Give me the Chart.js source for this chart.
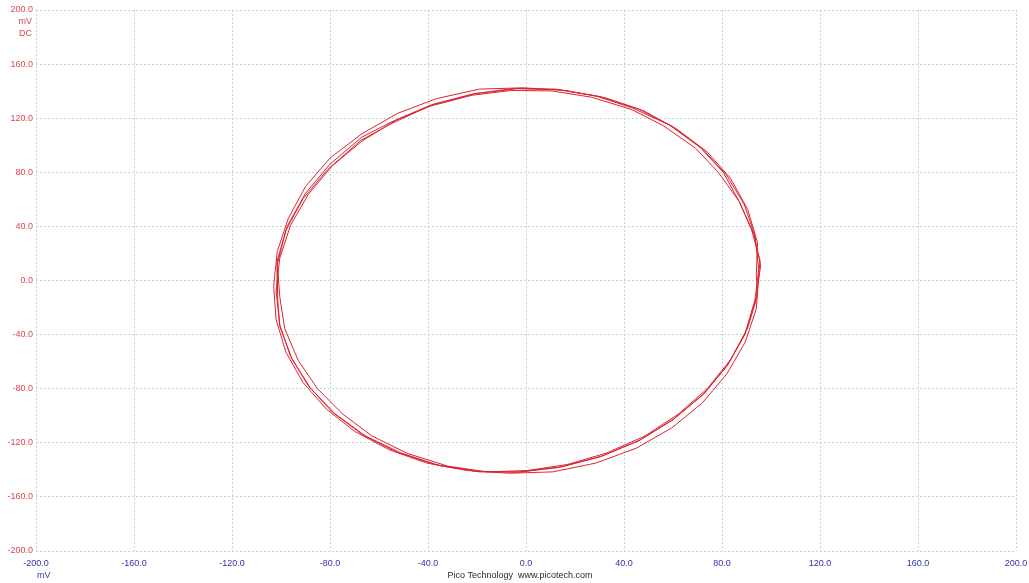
<!DOCTYPE html>
<html>
<head>
<meta charset="utf-8">
<script src="https://cdn.jsdelivr.net/npm/chart.js@4.4.1/dist/chart.umd.min.js"></script>
<style>
html,body{margin:0;padding:0;background:#fff;}
#wrap{width:1029px;height:583px;position:relative;}
</style>
</head>
<body>
<div id="wrap"><canvas id="c" width="1029" height="583"></canvas></div>
<script>
// Tick labels (mV)
const xTicks = [-200, -160, -120, -80, -40, 0, 40, 80, 120, 160, 200];
const yTicks = [-200, -160, -120, -80, -40, 0, 40, 80, 120, 160, 200];

// Trace X (channel A, mV) and Y (channel B, mV)
const traceX = [
  95.0, 93.5, 89.1, 81.8, 72.0, 59.8, 45.8, 30.2, 13.6, -3.5, -20.6, -37.2, -52.8, -66.8, -79.0, -88.8, -96.1, -100.5,
  -102.0, -100.5, -96.1, -88.8, -79.0, -66.8, -52.8, -37.2, -20.6, -3.5, 13.6, 30.2, 45.8, 59.8, 72.0, 81.8, 89.1, 93.5,
  95.8, 93.0, 87.0, 78.5, 69.2, 56.0, 43.0, 26.8, 10.5, -6.0, -22.0, -40.0, -55.0, -67.5, -81.0, -91.0, -98.0, -101.5,
  -100.5, -98.5, -93.0, -85.2, -75.0, -62.8, -48.5, -32.0, -16.0, 0.5, 17.0, 33.0, 48.5, 62.0, 74.0, 83.5, 90.5, 94.5,
  94.0, 94.5, 90.5, 83.5, 74.0, 61.5, 48.0, 32.5, 16.0, -1.0, -19.0, -36.5, -52.5, -67.0, -80.0, -90.0, -97.0, -101.5,
  -103.0, -102.0, -98.0, -91.0, -81.5, -70.0, -56.0, -40.5, -24.0, -7.0, 11.0, 28.5, 45.0, 59.5, 72.0, 82.0, 89.5, 94.0,
  95.5, 92.0, 87.0, 80.5, 71.0, 58.5, 43.5, 28.5, 12.0, -5.0, -21.5, -38.5, -54.0, -67.0, -80.0, -90.0, -97.5, -101.5,
  -101.5, -100.5, -95.5, -88.0, -78.0, -65.5, -51.0, -35.0, -19.0, -2.0, 15.0, 31.5, 47.0, 60.5, 73.0, 82.5, 89.5, 93.5,
  95.0
];
const traceY = [
  8.2, 32.7, 56.2, 78.0, 97.4, 113.9, 126.9, 136.0, 141.0, 141.8, 138.2, 130.4, 118.7, 103.3, 84.9, 63.8, 40.8, 16.6,
  -8.2, -32.7, -56.2, -78.0, -97.4, -113.9, -126.9, -136.0, -141.0, -141.8, -138.2, -130.4, -118.7, -103.3, -84.9, -63.8, -40.8, -16.6,
  11.0, 34.2, 58.5, 80.0, 97.8, 114.5, 126.5, 135.5, 140.2, 140.5, 137.0, 128.5, 116.0, 103.5, 82.0, 60.5, 37.0, 12.0,
  -12.0, -35.5, -59.0, -79.8, -98.5, -115.0, -127.8, -137.2, -141.5, -140.5, -136.0, -127.5, -115.0, -99.0, -80.0, -58.5, -35.0, -11.0,
  4.0, 28.0, 52.5, 75.5, 95.0, 112.0, 125.5, 135.0, 140.5, 142.5, 141.5, 134.5, 123.5, 108.5, 90.5, 69.5, 46.0, 21.5,
  -4.0, -29.0, -53.0, -75.5, -95.0, -111.5, -125.0, -135.0, -140.5, -142.5, -141.5, -135.0, -124.0, -109.0, -90.5, -69.0, -45.5, -21.0,
  15.0, 38.0, 58.5, 80.0, 98.5, 115.0, 127.5, 136.5, 141.5, 142.0, 138.0, 130.0, 118.0, 106.0, 86.0, 64.5, 40.0, 15.0,
  -10.0, -34.0, -58.0, -79.5, -98.5, -115.0, -127.5, -137.0, -141.5, -141.5, -137.5, -129.5, -117.5, -102.0, -83.0, -62.0, -39.0, -14.0,
  8.0
];

const points = traceX.map((x, i) => ({x: x, y: traceY[i]}));
const FONT = "Liberation Sans";
const gridColor = "rgb(190,214,226)";

const extras = {
  id: "extras",
  afterDraw(chart) {
    const ctx = chart.ctx;
    const area = chart.chartArea;
    ctx.save();
    ctx.font = "9px '" + FONT + "'";
    ctx.textBaseline = "middle";
    ctx.textAlign = "right";
    ctx.fillStyle = "rgb(225,70,80)";
    ctx.fillText("mV", area.left - 4, 22);
    ctx.fillText("DC", area.left - 4, 34);
    ctx.textAlign = "left";
    ctx.fillStyle = "rgb(50,50,170)";
    ctx.fillText("mV", area.left + 1, 576);
    ctx.textAlign = "center";
    ctx.fillStyle = "rgb(40,40,40)";
    ctx.fillText("Pico Technology  www.picotech.com", 520, 576);
    ctx.restore();
  }
};

new Chart(document.getElementById("c"), {
  type: "scatter",
  data: {
    datasets: [{
      data: points,
      showLine: true,
      borderColor: "rgb(220,35,50)",
      borderWidth: 1,
      pointRadius: 0,
      fill: false,
      tension: 0
    }]
  },
  options: {
    responsive: false,
    animation: false,
    events: [],
    layout: {padding: {top: 10, right: 13, left: 0, bottom: 0}},
    plugins: {legend: {display: false}, tooltip: {enabled: false}},
    scales: {
      x: {
        type: "linear",
        min: -200, max: 200,
        afterBuildTicks: s => { s.ticks = xTicks.map(v => ({value: v})); },
        afterFit: s => { s.height = 32; s.paddingLeft = 0; s.paddingRight = 0; },
        grid: {color: gridColor, lineWidth: 1, drawTicks: false},
        border: {display: false, dash: [2, 2]},
        ticks: {
          color: "rgb(50,50,170)",
          font: {family: FONT, size: 9},
          padding: 7,
          maxRotation: 0,
          autoSkip: false,
          callback: v => v.toFixed(1)
        }
      },
      y: {
        type: "linear",
        min: -200, max: 200,
        afterBuildTicks: s => { s.ticks = yTicks.map(v => ({value: v})); },
        afterFit: s => { s.width = 36; s.paddingTop = 0; s.paddingBottom = 0; },
        grid: {color: gridColor, lineWidth: 1, drawTicks: false},
        border: {display: false, dash: [2, 2]},
        ticks: {
          color: "rgb(225,70,80)",
          font: {family: FONT, size: 9},
          padding: 3,
          autoSkip: false,
          callback: v => v.toFixed(1)
        }
      }
    }
  },
  plugins: [extras]
});
</script>
</body>
</html>
